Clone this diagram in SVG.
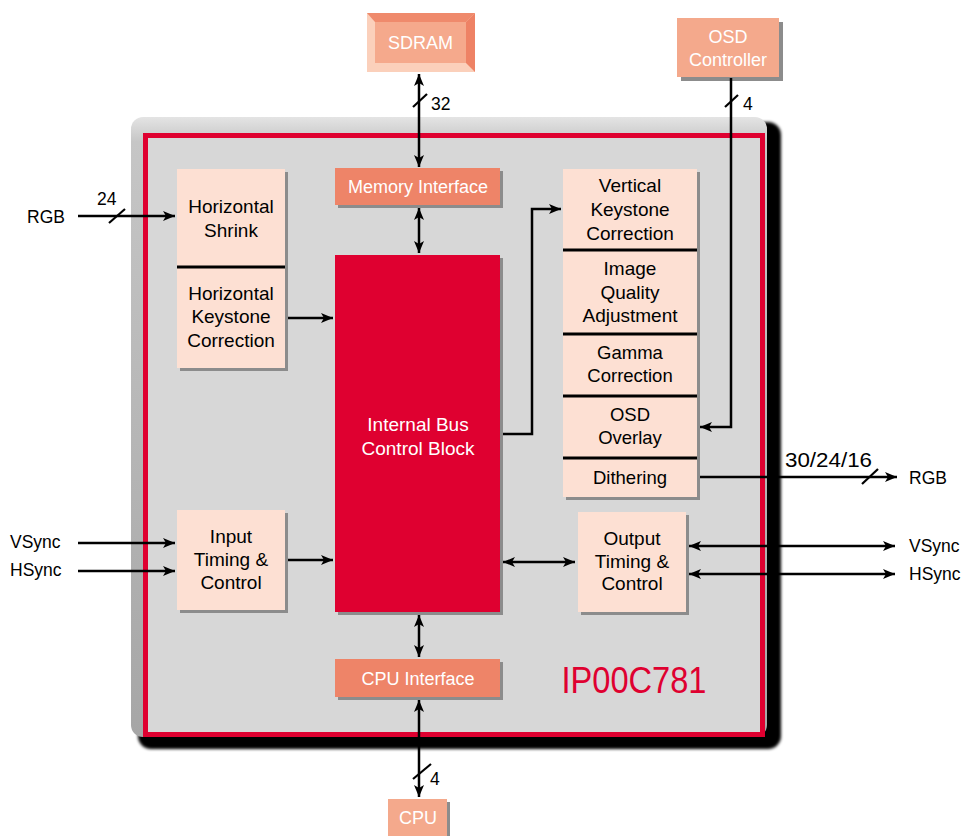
<svg xmlns="http://www.w3.org/2000/svg" width="965" height="836" viewBox="0 0 965 836">
<defs>
<style>
.t{font-family:"Liberation Sans",Arial,sans-serif;font-size:19px;fill:#000;text-anchor:middle}
.w{font-family:"Liberation Sans",Arial,sans-serif;font-size:18px;fill:#fff;text-anchor:middle}
.lbl{font-family:"Liberation Sans",Arial,sans-serif;font-size:17.5px;fill:#000}
.peach{fill:#fde0d3}
.sh{fill:#8c8c8c}
.sal{fill:#ee8468}
.div{stroke:#000;stroke-width:3}
.c{fill:none;stroke:#000;stroke-width:2.5}
.sl{stroke:#000;stroke-width:2.2}
</style>
<marker id="ah" viewBox="0 0 12 10" refX="12" refY="5" markerWidth="12" markerHeight="10" markerUnits="userSpaceOnUse" orient="auto-start-reverse">
<path d="M0,0 L12,5 L0,10 L3,5 z" fill="#000"/>
</marker>
<filter id="blur" x="-5%" y="-5%" width="110%" height="110%"><feGaussianBlur stdDeviation="1.6"/></filter>
<linearGradient id="bev" x1="0" y1="0" x2="0" y2="1">
<stop offset="0" stop-color="#e4e4e4"/>
<stop offset="0.04" stop-color="#c6c6c6"/>
<stop offset="1" stop-color="#a6a6a6"/>
</linearGradient>
</defs>

<g id="chip">
<rect x="138" y="122" width="643" height="627" rx="13" fill="#000" filter="url(#blur)"/>
<rect x="131" y="117" width="636" height="620" rx="12" fill="url(#bev)"/>
<rect x="145.5" y="135.5" width="617" height="599" fill="#d7d7d7" stroke="#df0030" stroke-width="5"/>
<text x="634" y="693" font-family="'Liberation Sans',Arial,sans-serif" font-size="36" fill="#df0030" text-anchor="middle" textLength="145" lengthAdjust="spacingAndGlyphs">IP00C781</text>
</g>

<g id="sdram">
<rect x="367" y="13" width="108" height="59" fill="#fbd0bb"/>
<polygon points="367,13 475,13 466,22 375,22" fill="#ef8a6c"/>
<polygon points="475,13 475,72 466,63 466,22" fill="#ee8265"/>
<rect x="375" y="22" width="91" height="41" fill="#f5a98c"/>
<text class="w" x="420.5" y="49">SDRAM</text>
</g>

<g id="osd-controller">
<rect x="681" y="22" width="102" height="59" class="sh"/>
<rect x="677" y="18" width="102" height="59" fill="#f4a98c"/>
<text class="w" x="728" y="43">OSD</text>
<text class="w" x="728" y="66">Controller</text>
</g>

<g id="memory-interface">
<rect x="338" y="171" width="165" height="37" class="sh"/>
<rect x="335" y="168" width="165" height="37" class="sal"/>
<text class="w" x="418" y="193">Memory Interface</text>
</g>

<g id="internal-bus">
<rect x="338" y="258" width="165" height="357" class="sh"/>
<rect x="335" y="255" width="165" height="357" fill="#df0030"/>
<text class="w" x="418" y="431" style="font-size:19px">Internal Bus</text>
<text class="w" x="418" y="455" style="font-size:19px">Control Block</text>
</g>

<g id="cpu-interface">
<rect x="338" y="662" width="165" height="38" class="sh"/>
<rect x="335" y="659" width="165" height="38" class="sal"/>
<text class="w" x="418" y="685">CPU Interface</text>
</g>

<g id="cpu">
<rect x="391" y="802" width="59" height="36" class="sh"/>
<rect x="388" y="799" width="59" height="37" fill="#f4a98c"/>
<text class="w" x="418" y="824">CPU</text>
</g>

<g id="horizontal-block">
<rect x="180" y="172" width="108" height="199" class="sh"/>
<rect x="177" y="169" width="108" height="199" class="peach"/>
<line x1="177" y1="267" x2="285" y2="267" class="div"/>
<text class="t" x="231" y="213">Horizontal</text>
<text class="t" x="231" y="237">Shrink</text>
<text class="t" x="231" y="300">Horizontal</text>
<text class="t" x="231" y="323">Keystone</text>
<text class="t" x="231" y="347">Correction</text>
</g>

<g id="input-timing">
<rect x="180" y="513" width="108" height="100" class="sh"/>
<rect x="177" y="510" width="108" height="100" class="peach"/>
<text class="t" x="231" y="543">Input</text>
<text class="t" x="231" y="566">Timing &amp;</text>
<text class="t" x="231" y="589">Control</text>
</g>

<g id="vertical-stack">
<rect x="566" y="172" width="134" height="328" class="sh"/>
<rect x="563" y="169" width="134" height="328" class="peach"/>
<line x1="563" y1="250" x2="697" y2="250" class="div"/>
<line x1="563" y1="334" x2="697" y2="334" class="div"/>
<line x1="563" y1="396" x2="697" y2="396" class="div"/>
<line x1="563" y1="458" x2="697" y2="458" class="div"/>
<text class="t" x="630" y="192">Vertical</text>
<text class="t" x="630" y="216">Keystone</text>
<text class="t" x="630" y="240">Correction</text>
<text class="t" x="630" y="275">Image</text>
<text class="t" x="630" y="299">Quality</text>
<text class="t" x="630" y="322">Adjustment</text>
<text class="t" x="630" y="359" style="font-size:18.5px">Gamma</text>
<text class="t" x="630" y="382" style="font-size:18.5px">Correction</text>
<text class="t" x="630" y="421" style="font-size:18.5px">OSD</text>
<text class="t" x="630" y="444" style="font-size:18.5px">Overlay</text>
<text class="t" x="630" y="484" style="font-size:18.5px">Dithering</text>
</g>

<g id="output-timing">
<rect x="581" y="515" width="108" height="100" class="sh"/>
<rect x="578" y="512" width="108" height="100" class="peach"/>
<text class="t" x="632" y="545">Output</text>
<text class="t" x="632" y="568">Timing &amp;</text>
<text class="t" x="632" y="590">Control</text>
</g>

<g id="connectors">
<line x1="419" y1="74" x2="419" y2="167" class="c" marker-start="url(#ah)" marker-end="url(#ah)"/>
<line x1="419" y1="208" x2="419" y2="253" class="c" marker-start="url(#ah)" marker-end="url(#ah)"/>
<line x1="419" y1="615" x2="419" y2="657" class="c" marker-start="url(#ah)" marker-end="url(#ah)"/>
<line x1="419" y1="700" x2="419" y2="797" class="c" marker-start="url(#ah)" marker-end="url(#ah)"/>
<line x1="78" y1="216" x2="175" y2="216" class="c" marker-end="url(#ah)"/>
<line x1="288" y1="318" x2="333" y2="318" class="c" marker-end="url(#ah)"/>
<line x1="78" y1="543" x2="175" y2="543" class="c" marker-end="url(#ah)"/>
<line x1="78" y1="571" x2="175" y2="571" class="c" marker-end="url(#ah)"/>
<line x1="288" y1="560" x2="333" y2="560" class="c" marker-end="url(#ah)"/>
<polyline points="503,434 532,434 532,209 561,209" class="c" marker-end="url(#ah)"/>
<polyline points="731,78 731,427 700,427" class="c" marker-end="url(#ah)"/>
<line x1="700" y1="477" x2="897" y2="477" class="c" marker-end="url(#ah)"/>
<line x1="503" y1="562" x2="575" y2="562" class="c" marker-start="url(#ah)" marker-end="url(#ah)"/>
<line x1="689" y1="546" x2="895" y2="546" class="c" marker-start="url(#ah)" marker-end="url(#ah)"/>
<line x1="689" y1="574" x2="895" y2="574" class="c" marker-start="url(#ah)" marker-end="url(#ah)"/>
<line x1="413" y1="107" x2="427" y2="94" class="sl"/>
<line x1="725" y1="107" x2="738" y2="95" class="sl"/>
<line x1="109" y1="223" x2="125" y2="209" class="sl"/>
<line x1="862" y1="484" x2="878" y2="469" class="sl"/>
<line x1="413" y1="779" x2="431" y2="764" class="sl"/>
<text class="lbl" x="431" y="110">32</text>
<text class="lbl" x="743" y="110">4</text>
<text class="lbl" x="97" y="205">24</text>
<text class="lbl" x="430" y="785">4</text>
<text class="lbl" x="785" y="467" style="font-size:20px" textLength="87" lengthAdjust="spacingAndGlyphs">30/24/16</text>
<text class="lbl" x="27" y="223">RGB</text>
<text class="lbl" x="909" y="484">RGB</text>
<text class="lbl" x="10" y="548">VSync</text>
<text class="lbl" x="10" y="576">HSync</text>
<text class="lbl" x="909" y="552">VSync</text>
<text class="lbl" x="909" y="580">HSync</text>
</g>
</svg>
